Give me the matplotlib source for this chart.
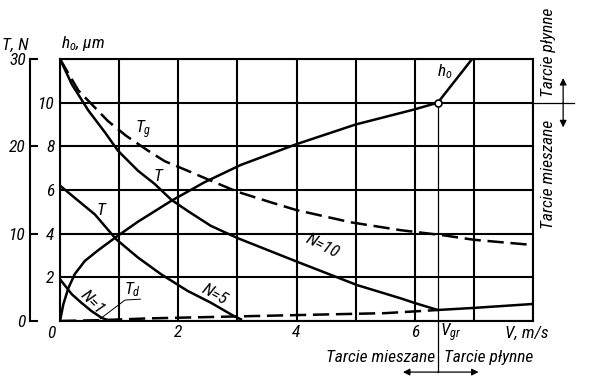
"""plot.py - friction / film thickness vs speed (technical chart redraw)"""

import matplotlib
matplotlib.use("Agg")
import matplotlib.pyplot as plt
from matplotlib import font_manager

#------------------------------------------------------------------------------
#--- (0) Data
#------------------------------------------------------------------------------
# film thickness h_o [um] against speed V [m/s]
V_h0 = [0, 0.056, 0.14, 0.25, 0.42, 0.65, 0.95, 1.32, 1.88, 2.44, 3.06, 4.0, 5.0, 5.98, 6.39, 6.97]
h0 = [0, 0.76, 1.5, 2.15, 2.75, 3.25, 3.85, 4.55, 5.5, 6.35, 7.15, 8.1, 9.0, 9.68, 10.0, 12.0]

# T_g (dashed)
V_tg = [0, 0.31, 0.81, 1.12, 1.49, 1.77, 2.16, 2.61, 3.0, 3.56, 4.0, 4.92, 5.76, 6.5, 7.0, 8.0]
T_g = [30, 26.4, 22.9, 21.2, 19.5, 18.3, 17.2, 15.9, 14.8, 13.6, 12.7, 11.3, 10.4, 9.8, 9.3, 8.7]

# T for N=10
V_n10 = [0, 0.2, 0.48, 0.76, 0.98, 1.32, 1.6, 1.88, 2.16, 2.55, 3.0, 4.02, 5.03, 5.76, 6.0, 6.39, 7.0, 8.0]
T_n10 = [30, 27.1, 24.1, 21.6, 19.5, 17.2, 15.7, 13.9, 12.6, 10.9, 9.5, 6.76, 4.1, 2.6, 2.06, 1.26, 1.5, 1.95]

# T for N=5
V_n5 = [0, 0.25, 0.59, 0.95, 1.32, 1.71, 2.16, 2.55, 2.94, 3.06]
T_n5 = [15.5, 14.1, 12.2, 9.36, 7.26, 5.35, 3.44, 2.1, 0.57, 0.19]

# T for N=1
V_n1 = [0, 0.2, 0.36, 0.53, 0.7, 0.81]
T_n1 = [4.78, 3.06, 2.1, 1.15, 0.38, 0.08]

# T_d (dashed)
V_td = [0, 0.7, 1.5, 2.5, 3.5, 4.5, 5.5, 6.0, 6.39]
T_d = [0, 0.1, 0.3, 0.45, 0.6, 0.75, 0.9, 1.1, 1.26]

V_gr = 6.39
h_gr = 10.0

x_ticks = [0, 1, 2, 3, 4, 5, 6, 7, 8]
x_labels = ["", "", "2", "", "4", "", "6", "", ""]
h_ticks = [0, 2, 4, 6, 8, 10, 12]
h_labels = ["", "2", "4", "6", "8", "10", ""]
T_ticks = [0, 10, 20, 30]
T_labels = ["0", "10", "20", "30"]

#------------------------------------------------------------------------------
#--- (1) Style
#------------------------------------------------------------------------------
def pick_font(names):
    for n in names:
        try:
            font_manager.findfont(n, fallback_to_default=False)
            return n
        except Exception:
            pass
    return "DejaVu Sans"

FONT = pick_font(["Liberation Sans Narrow", "DejaVu Sans Condensed", "Roboto Condensed"])
NARROW = FONT != "DejaVu Sans"
plt.rcParams["font.family"] = [FONT, "DejaVu Sans"]
plt.rcParams["font.style"] = "italic"
plt.rcParams["font.size"] = 12.5 if NARROW else 10
plt.rcParams["mathtext.fontset"] = "custom"
plt.rcParams["mathtext.it"] = FONT + ":italic"
plt.rcParams["mathtext.rm"] = FONT + ":italic"

LW = 1.8   # curves
GW = 1.5   # grid / frame
DASH = (6.5, 2.7)

fig = plt.figure(figsize=(5.92, 3.88), dpi=100)
ax = fig.add_axes([60 / 592, 1 - 321 / 388, 473 / 592, 262 / 388])
ax.set_xlim(0, 8)
ax.set_ylim(0, 12)

ax.set_xticks(x_ticks)
ax.set_xticklabels(x_labels)
ax.set_yticks(h_ticks)
ax.set_yticklabels(h_labels)
ax.tick_params(axis="both", length=0)
ax.tick_params(axis="x", pad=3)
ax.tick_params(axis="y", pad=4)
ax.grid(True, color="black", linewidth=GW)
for s in ax.spines.values():
    s.set_linewidth(GW)

# separate T axis on the left
ax_t = ax.twinx()
ax_t.set_ylim(0, 30)
ax_t.yaxis.set_ticks_position("left")
ax_t.yaxis.set_label_position("left")
ax_t.spines["left"].set_position(("axes", -30 / 473))
ax_t.spines["left"].set_linewidth(GW)
for side in ["right", "top", "bottom"]:
    ax_t.spines[side].set_visible(False)
ax_t.set_yticks(T_ticks)
ax_t.set_yticklabels(T_labels)
ax_t.tick_params(axis="y", direction="in", length=6, width=GW, pad=3)

#------------------------------------------------------------------------------
#--- (2) Curves
#------------------------------------------------------------------------------
ax.plot(V_h0, h0, color="black", lw=LW, solid_joinstyle="round")
ax_t.plot(V_tg, T_g, color="black", lw=LW, dashes=DASH)
ax_t.plot(V_n10, T_n10, color="black", lw=LW, solid_joinstyle="round")
ax_t.plot(V_n5, T_n5, color="black", lw=LW, solid_joinstyle="round")
ax_t.plot(V_n1, T_n1, color="black", lw=LW, solid_joinstyle="round")
ax_t.plot(V_td, T_d, color="black", lw=LW, dashes=DASH)

# V_gr marker and line
ax.plot([V_gr, V_gr], [h_gr, -2.34], color="black", lw=0.9, clip_on=False)
ax.plot([V_gr], [h_gr], marker="o", ms=5, mfc="white", mec="black", mew=1.2, zorder=5)

#------------------------------------------------------------------------------
#--- (3) Labels
#------------------------------------------------------------------------------
def txt(x, y, s, **kw):
    ax.text(x, y, s, ha="center", va="center", clip_on=False, **kw)

txt(-0.76, 12.64, "T, N")
txt(0.39, 12.73, "$h_o$, μm")
txt(1.41, 8.75, "$T_g$")
txt(1.66, 6.64, "T")
txt(0.69, 5.08, "T")
txt(1.22, 1.42, "$T_d$")
ax.plot([0.68, 1.1, 1.36], [0.1, 0.96, 1.0], color="black", lw=0.7)
txt(0.54, 0.87, "N=1", rotation=-45)
txt(2.61, 1.19, "N=5", rotation=-29)
txt(4.44, 3.44, "N=10", rotation=-27)
txt(6.51, 11.4, "$h_o$")
txt(-0.14, -0.55, "0")
txt(6.61, -0.55, "$V_{gr}$")
txt(7.9, -0.55, "V, m/s")

# friction regime notes below the chart
ax.text(6.34, -1.65, "Tarcie mieszane", ha="right", va="center", clip_on=False)
ax.text(6.49, -1.65, "Tarcie płynne", ha="left", va="center", clip_on=False)
arrow = dict(arrowstyle="-|>", color="black", lw=0.9, mutation_scale=10, shrinkA=0, shrinkB=0)
ax.annotate("", xy=(5.8, -2.34), xytext=(V_gr, -2.34), annotation_clip=False, arrowprops=arrow)
ax.annotate("", xy=(7.08, -2.34), xytext=(V_gr, -2.34), annotation_clip=False, arrowprops=arrow)

# friction regime notes on the right
ax.plot([8.0, 8.69], [10, 10], color="black", lw=0.9, clip_on=False)
ax.annotate("", xy=(8.51, 11.13), xytext=(8.51, 10), annotation_clip=False, arrowprops=arrow)
ax.annotate("", xy=(8.51, 8.87), xytext=(8.51, 10), annotation_clip=False, arrowprops=arrow)
txt(8.27, 12.32, "Tarcie płynne", rotation=90)
txt(8.27, 6.69, "Tarcie mieszane", rotation=90)

fig.savefig("out.png", dpi=100)
